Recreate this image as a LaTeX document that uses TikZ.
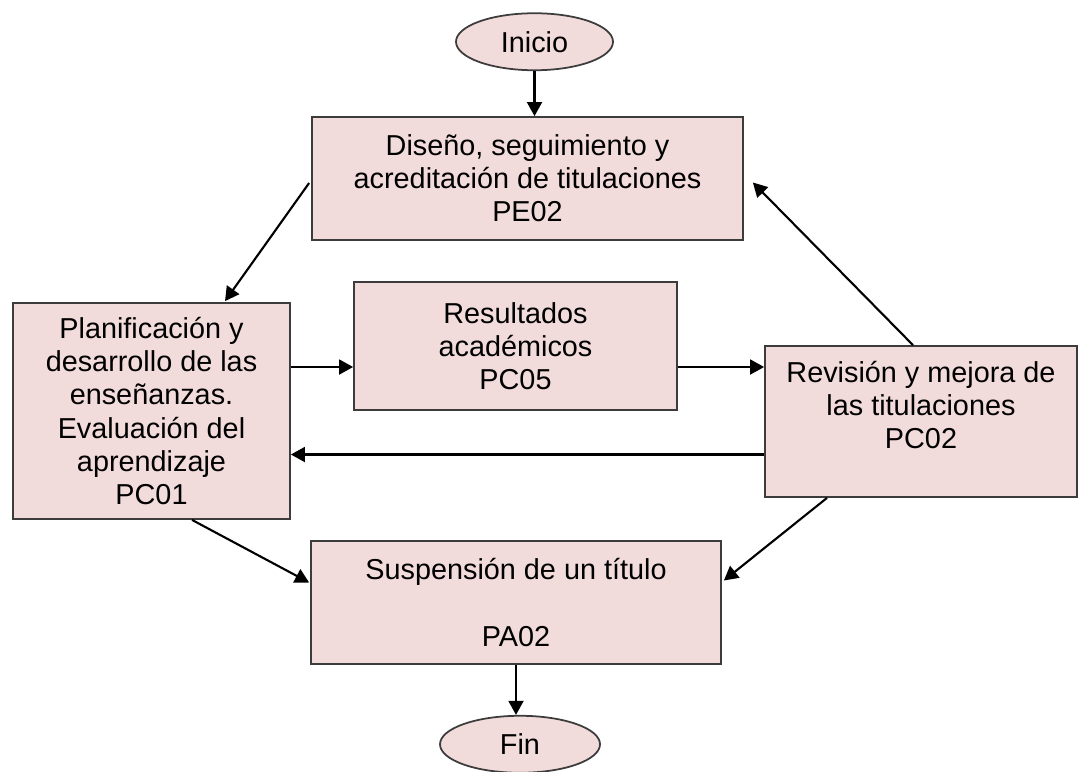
\documentclass[tikz,border=0pt]{standalone}
\usepackage{fontspec}
\setmainfont{Liberation Sans}
\usepackage{xcolor}
\usepackage{tikz}
\usetikzlibrary{arrows.meta,positioning,shapes.geometric,calc}

\definecolor{boxpink}{HTML}{F2DCDB}
\definecolor{edgegray}{RGB}{60,60,60}

\begin{document}
\begin{tikzpicture}[
  x=0.2mm, y=-0.2mm,
  font=\fontsize{16.4}{18.8}\selectfont,
  box/.style={draw=edgegray, line width=1pt, fill=boxpink, align=center, inner sep=0pt},
  term/.style={ellipse, draw=edgegray, line width=1pt, fill=boxpink, inner sep=0pt, minimum width=3.14cm, minimum height=1.14cm},
  >={Triangle[length=8pt,width=8.5pt]},
  flow/.style={->, line width=1.2pt}
]
  \useasboundingbox (0,0) rectangle (1080,771);

  \node[box, minimum width=8.62cm, minimum height=2.46cm] (pe02) at (527.5,178.5) {Diseño, seguimiento y\\acreditación de titulaciones\\PE02};
  \node[term, above=0.9cm of pe02, xshift=0.14cm] (ini) {Inicio};
  \node[box, minimum width=5.54cm, minimum height=4.32cm] (pc01) at (151.5,411) {Planificación y\\desarrollo de las\\enseñanzas.\\Evaluación del\\aprendizaje\\PC01};
  \node[box, minimum width=6.46cm, minimum height=2.56cm] (pc05) at (515.5,346) {Resultados\\académicos\\PC05};
  \node[box, minimum width=6.24cm, minimum height=3.02cm] (pc02) at (921,421.5) {Revisión y mejora de\\las titulaciones\\PC02\\~};
  \node[box, minimum width=8.2cm, minimum height=2.46cm] (pa02) at (516,602.5) {Suspensión de un título\\~\\PA02};
  \node[term, minimum width=3.2cm, below=1cm of pa02, xshift=0.08cm] (fin) {Fin};

  \draw[flow] (ini.south) -- (ini.south |- pe02.north);
  \draw[flow] ($(pe02.west)+(-2,4.5)$) -- ($(pc01.north)+(73.5,-1)$);
  \draw[flow] ($(pc01.east |- pc05.west)+(0,21)$) -- ($(pc05.west)+(0,21)$);
  \draw[flow] ($(pc05.east)+(0,21)$) -- ($(pc05.east -| pc02.west)+(0,21)$);
  \draw[flow] ($(pc02.west)+(0,33)$) -- ($(pc02.west -| pc01.east)+(0,33)$);
  \draw[flow] ($(pc02.north)+(-8,0)$) -- ($(pe02.east)+(9,4)$);
  \draw[flow] ($(pc01.south)+(40.5,0)$) -- ($(pa02.west)+(-1,-20)$);
  \draw[flow] ($(pc02.south)+(-94,0)$) -- ($(pa02.east)+(2,-22)$);
  \draw[flow] (pa02.south) -- (pa02.south |- fin.north);
\end{tikzpicture}
\end{document}
